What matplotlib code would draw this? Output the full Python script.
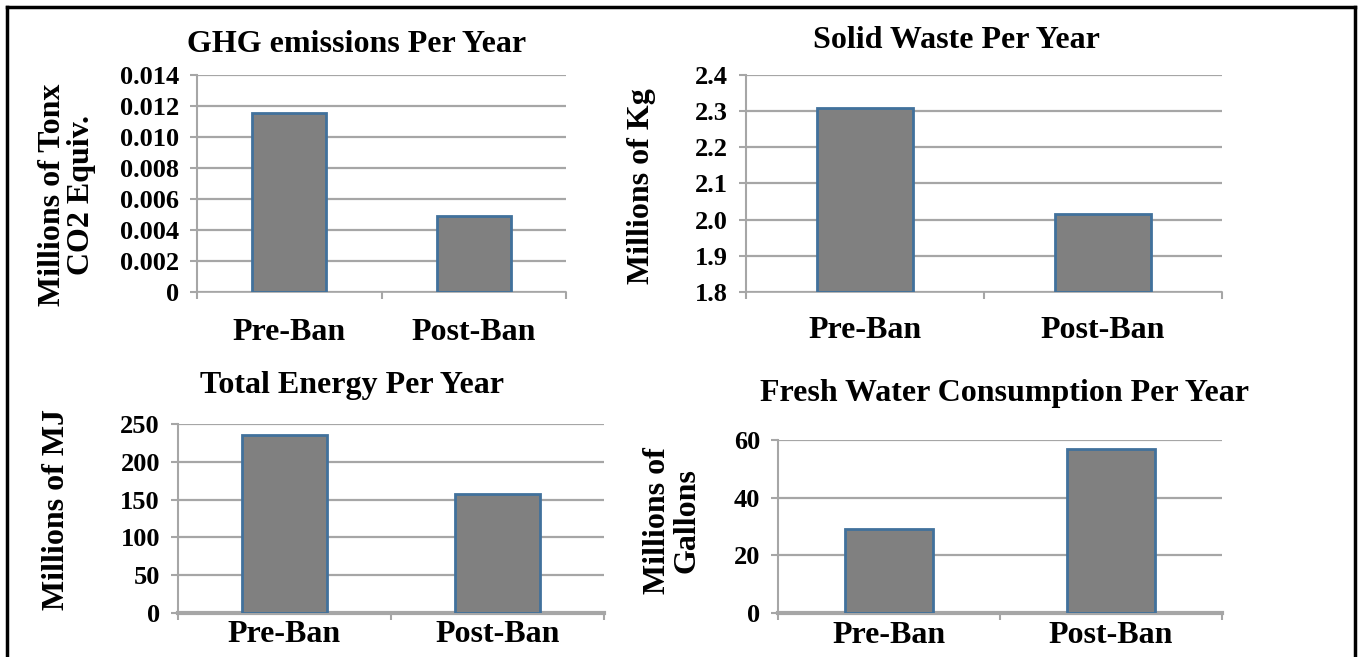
import matplotlib
matplotlib.use("Agg")
import matplotlib.pyplot as plt
from matplotlib.lines import Line2D

plt.rcParams['font.family'] = 'Liberation Serif'
plt.rcParams['font.weight'] = 'bold'

# data
periods = ['Pre-Ban', 'Post-Ban']
ghg = [0.01155, 0.0049]
waste = [2.31, 2.015]
energy = [236, 158]
water = [29, 57]

W, H = 1361, 657
fig = plt.figure(figsize=(W / 100, H / 100), dpi=100)

grid_c = '#a6a6a6'
bar_c = '#808080'
edge_c = '#41719c'


def px(l, t, r, b):
    return [l / W, 1 - b / H, (r - l) / W, (b - t) / H]


def panel(rect, vals, ylim, yticks, ylabels, xpad, lw_bottom=1.2):
    ax = fig.add_axes(rect)
    ax.bar([0, 1], [v - ylim[0] for v in vals], bottom=ylim[0], width=0.4,
           color=bar_c, edgecolor=edge_c, linewidth=2, zorder=3)
    ax.set_xlim(-0.5, 1.5)
    ax.set_ylim(*ylim)
    ax.set_yticks(yticks)
    ax.set_yticklabels(ylabels, fontsize=19, fontweight='bold')
    ax.yaxis.grid(True, color=grid_c, linewidth=1.6, zorder=0)
    ax.set_xticks([0, 1])
    ax.set_xticklabels(periods, fontsize=23, fontweight='bold')
    ax.tick_params(axis='x', length=0, pad=xpad)
    ax.set_xticks([-0.5, 0.5, 1.5], minor=True)
    ax.tick_params(axis='x', which='minor', length=5, color=grid_c, width=1.5)
    ax.tick_params(axis='y', length=5, color=grid_c, width=1.5, pad=8)
    for s in ['top', 'right']:
        ax.spines[s].set_visible(False)
    ax.spines['left'].set_color(grid_c)
    ax.spines['left'].set_linewidth(1.5)
    ax.spines['bottom'].set_color(grid_c)
    ax.spines['bottom'].set_linewidth(lw_bottom)
    ax.set_axisbelow(True)
    return ax


panel(px(197, 75, 566, 292), ghg, (0, 0.014),
      [0, 0.002, 0.004, 0.006, 0.008, 0.010, 0.012, 0.014],
      ['0', '0.002', '0.004', '0.006', '0.008', '0.010', '0.012', '0.014'], 19)
panel(px(746, 75, 1222, 292), waste, (1.8, 2.4),
      [1.8, 1.9, 2.0, 2.1, 2.2, 2.3, 2.4],
      ['1.8', '1.9', '2.0', '2.1', '2.2', '2.3', '2.4'], 17)
panel(px(178, 424, 604, 613), energy, (0, 250),
      [0, 50, 100, 150, 200, 250],
      ['0', '50', '100', '150', '200', '250'], 5, lw_bottom=3)
panel(px(778, 440, 1222, 613), water, (0, 60),
      [0, 20, 40, 60], ['0', '20', '40', '60'], 6, lw_bottom=3)

def ftext(x, y, s, rot=0, size=23):
    fig.text(x / W, 1 - y / H, s, ha='center', va='center', rotation=rot,
             fontsize=size, fontweight='bold', linespacing=1.0)

ftext(357, 44, 'GHG emissions Per Year')
ftext(956, 40, 'Solid Waste Per Year')
ftext(352, 385, 'Total Energy Per Year')
ftext(1005, 393, 'Fresh Water Consumption Per Year')

ftext(67, 195, 'Millions of Tonx\nCO2 Equiv.', rot=90)
ftext(641, 186, 'Millions of Kg', rot=90)
ftext(57, 509, 'Millions of MJ', rot=90)
ftext(672, 521, 'Millions of\nGallons', rot=90)

# outer frame
for xs, ys in [([7, 1355], [7, 7]), ([7, 7], [7, H]), ([1355, 1355], [7, H])]:
    fig.add_artist(Line2D([x / W for x in xs], [1 - y / H for y in ys],
                          color='black', linewidth=2.5))

fig.savefig('out.png', dpi=100)
